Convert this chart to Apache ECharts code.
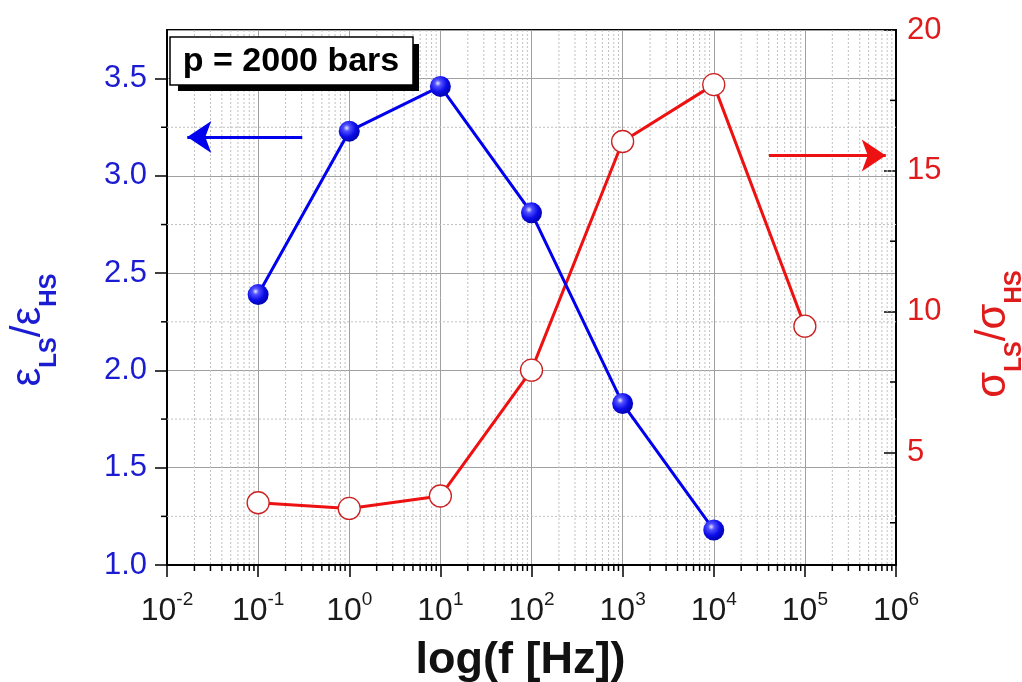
<!DOCTYPE html>
<html><head><meta charset="utf-8">
<script src="https://cdn.jsdelivr.net/npm/echarts@6/dist/echarts.min.js"></script>
<style>html,body{margin:0;padding:0;background:#fff}#c{width:1022px;height:682px}</style>
</head><body><div id="c"></div>
<script>
// ---- data ----
var freqBlue = [0.1, 1, 10, 100, 1000, 10000];
var epsRatio = [2.39, 3.23, 3.46, 2.81, 1.83, 1.18];
var freqRed = [0.1, 1, 10, 100, 1000, 10000, 100000];
var sigmaRatio = [3.21, 3.01, 3.45, 7.92, 16.04, 18.06, 9.48];
var xRange = [0.01, 1e6];
var leftRange = [1.0, 3.75];
var rightRange = [1, 20];
var rightLabels = [5, 10, 15, 20];
var rightMinor = [2.5, 7.5, 12.5, 17.5];
var leftMinor = [1.25, 1.75, 2.25, 2.75, 3.25];
var blueArrow = [[0.305, 3.2], [0.0167, 3.2]];
var redArrow = [[40300, 15.54], [772000, 15.54]];
var noteText = 'p = 2000 bars';
var xTitle = 'log(f [Hz])';

var FONT = 'Arial, "Liberation Sans", sans-serif';
var BLUE_TXT = '#1b1bd2';
var RED_TXT = '#e01b1b';

// minor decade positions (2..9 within each decade)
var minorX = [];
for (var d = -2; d < 6; d++) { for (var m = 2; m <= 9; m++) { minorX.push(m * Math.pow(10, d)); } }

var chart = echarts.init(document.getElementById('c'), null, {renderer: 'canvas'});

var sphere = new echarts.graphic.RadialGradient(0.38, 0.35, 0.7, [
  {offset: 0, color: '#e6e6ff'},
  {offset: 0.22, color: '#5050ff'},
  {offset: 0.6, color: '#0c0ce8'},
  {offset: 1, color: '#0000a8'}
]);

var option = {
  animation: false,
  textStyle: {fontFamily: FONT},
  grid: {left: 167, right: 126, top: 30, bottom: 117, show: true, borderColor: '#000', borderWidth: 2,
    outerBoundsMode: 'none', containLabel: false},
  xAxis: {
    type: 'log', logBase: 10, min: xRange[0], max: xRange[1], splitNumber: 8,
    axisLine: {lineStyle: {color: '#000', width: 2}},
    axisTick: {inside: false, length: 12, lineStyle: {color: '#000', width: 1.5}},
    axisLabel: {
      margin: 25,
      formatter: function (v) { var e = Math.round(Math.log10(v)); return '{b|10}{s|' + e + '}'; },
      rich: {
        b: {fontSize: 32, lineHeight: 42, color: '#1a1a1a', fontFamily: FONT},
        s: {fontSize: 19, lineHeight: 19, verticalAlign: 'top', color: '#1a1a1a', fontFamily: FONT}
      }
    },
    splitLine: {show: true, lineStyle: {color: '#a0a0a0', width: 1}},
    name: xTitle, nameLocation: 'middle', nameGap: 73,
    nameTextStyle: {fontSize: 45, fontWeight: 'bold', color: '#111', fontFamily: FONT, padding: [0, 22, 0, 0]}
  },
  yAxis: [
    {
      type: 'value', position: 'left', min: leftRange[0], max: leftRange[1], interval: 0.5,
      axisLine: {show: true, lineStyle: {color: '#000', width: 2}},
      axisTick: {show: true, inside: false, length: 12, lineStyle: {color: '#000', width: 1.5}},
      axisLabel: {color: BLUE_TXT, fontSize: 31, margin: 20, showMaxLabel: false,
        formatter: function (v) { return v.toFixed(1); }},
      splitLine: {show: true, lineStyle: {color: '#a0a0a0', width: 1}}
    },
    {
      type: 'value', position: 'right', min: rightRange[0], max: rightRange[1],
      axisLine: {show: true, lineStyle: {color: '#000', width: 2}},
      axisTick: {show: true, inside: true, length: 12, customValues: rightLabels, lineStyle: {color: '#000', width: 1.5}},
      axisLabel: {color: RED_TXT, fontSize: 31, margin: 11, customValues: rightLabels},
      splitLine: {show: false}
    }
  ],
  graphic: [
    {type: 'rect', shape: {x: 178, y: 44, width: 241, height: 47}, style: {fill: '#000'}, z: 100},
    {type: 'rect', shape: {x: 170, y: 37, width: 243, height: 48}, style: {fill: '#fff', stroke: '#000', lineWidth: 1.5}, z: 101},
    {type: 'text', x: 291, y: 62, z: 102,
      style: {text: noteText, fill: '#000', fontSize: 34, fontWeight: 'bold', fontFamily: FONT, align: 'center', verticalAlign: 'middle'}},
    {type: 'text', x: 34, y: 330, rotation: Math.PI / 2, z: 50,
      style: {text: '{g|ε}{s|LS}{g|/}{g|ε}{s|HS}', fill: BLUE_TXT, align: 'center', verticalAlign: 'middle',
        rich: {
          g: {fontSize: 42, lineHeight: 42, verticalAlign: 'top', fill: BLUE_TXT, fontFamily: FONT},
          s: {fontSize: 24, lineHeight: 54, verticalAlign: 'bottom', fontWeight: 'bold', fill: BLUE_TXT, fontFamily: FONT}
        }}},
    {type: 'text', x: 999, y: 334, rotation: Math.PI / 2, z: 50,
      style: {text: '{g|σ}{s|LS}{g|/}{g|σ}{s|HS}', fill: RED_TXT, align: 'center', verticalAlign: 'middle',
        rich: {
          g: {fontSize: 42, lineHeight: 42, verticalAlign: 'top', fill: RED_TXT, fontFamily: FONT},
          s: {fontSize: 24, lineHeight: 54, verticalAlign: 'bottom', fontWeight: 'bold', fill: RED_TXT, fontFamily: FONT}
        }}}
  ],
  series: [
    {
      type: 'custom', silent: true, clip: false, z: 1, xAxisIndex: 0, yAxisIndex: 0,
      data: minorX.map(function (v) { return [v, leftRange[0]]; }),
      renderItem: function (params, api) {
        var x = api.value(0);
        var b = api.coord([x, leftRange[0]]);
        var t = api.coord([x, leftRange[1]]);
        return {type: 'group', children: [
          {type: 'line', shape: {x1: b[0], y1: t[1], x2: b[0], y2: b[1]}, style: {stroke: '#c0c0c0', lineWidth: 1, lineDash: [2, 2]}},
          {type: 'line', shape: {x1: b[0], y1: b[1], x2: b[0], y2: b[1] + 6}, style: {stroke: '#000', lineWidth: 1.5}}
        ]};
      }
    },
    {
      type: 'custom', silent: true, clip: false, z: 1, xAxisIndex: 0, yAxisIndex: 0,
      data: leftMinor.map(function (v) { return [xRange[0], v]; }),
      renderItem: function (params, api) {
        var y = api.value(1);
        var a = api.coord([xRange[0], y]);
        var c = api.coord([xRange[1], y]);
        return {type: 'group', children: [
          {type: 'line', shape: {x1: a[0], y1: a[1], x2: c[0], y2: a[1]}, style: {stroke: '#c0c0c0', lineWidth: 1, lineDash: [2, 2]}},
          {type: 'line', shape: {x1: a[0] - 6, y1: a[1], x2: a[0], y2: a[1]}, style: {stroke: '#000', lineWidth: 1.5}}
        ]};
      }
    },
    {
      type: 'custom', silent: true, clip: false, z: 1, xAxisIndex: 0, yAxisIndex: 1,
      data: rightMinor.map(function (v) { return [xRange[1], v]; }),
      renderItem: function (params, api) {
        var a = api.coord([xRange[1], api.value(1)]);
        return {type: 'line', shape: {x1: a[0] - 6, y1: a[1], x2: a[0], y2: a[1]}, style: {stroke: '#000', lineWidth: 1.5}};
      }
    },
    {
      type: 'line', name: 'eps', xAxisIndex: 0, yAxisIndex: 0, z: 5,
      data: freqBlue.map(function (f, i) { return [f, epsRatio[i]]; }),
      symbol: 'circle', symbolSize: 21,
      lineStyle: {color: '#0000ee', width: 3},
      itemStyle: {color: sphere},
      emphasis: {disabled: true},
      markLine: {
        silent: true, symbol: ['none', 'arrow'], symbolSize: 24, label: {show: false},
        lineStyle: {color: '#0000ee', width: 3, type: 'solid'},
        data: [[{coord: blueArrow[0]}, {coord: blueArrow[1]}]]
      }
    },
    {
      type: 'line', name: 'sigma', xAxisIndex: 0, yAxisIndex: 1, z: 4,
      data: freqRed.map(function (f, i) { return [f, sigmaRatio[i]]; }),
      symbol: 'circle', symbolSize: 22,
      lineStyle: {color: '#ee1111', width: 3},
      itemStyle: {color: '#fff', borderColor: '#cc2020', borderWidth: 1.3},
      emphasis: {disabled: true},
      markLine: {
        silent: true, symbol: ['none', 'arrow'], symbolSize: 24, label: {show: false},
        lineStyle: {color: '#ee1111', width: 3, type: 'solid'},
        data: [[{coord: redArrow[0]}, {coord: redArrow[1]}]]
      }
    }
  ]
};
chart.setOption(option);
</script>
</body></html>
